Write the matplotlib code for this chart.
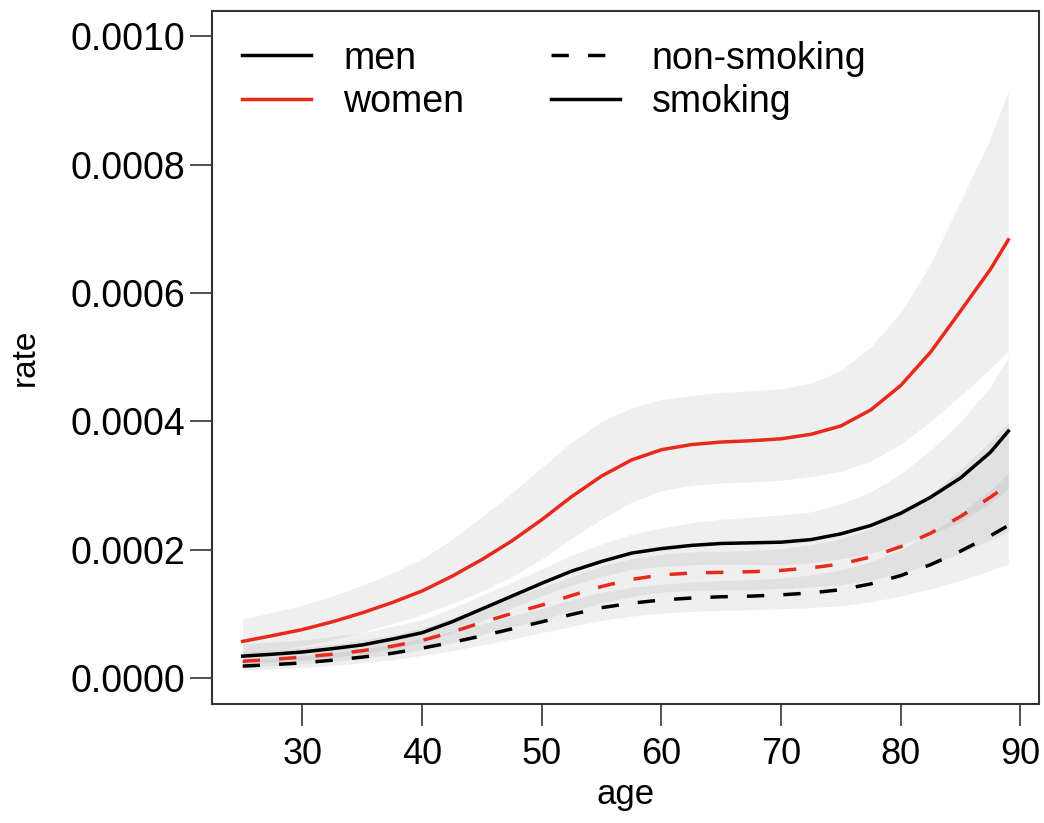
import numpy as np
import matplotlib.pyplot as plt
from matplotlib.lines import Line2D

plt.rcParams['font.family'] = ['Liberation Sans', 'DejaVu Sans']

age = [25, 27.5, 30, 32.5, 35, 37.5, 40, 42.5, 45, 47.5, 50, 52.5, 55, 57.5,
       60, 62.5, 65, 67.5, 70, 72.5, 75, 77.5, 80, 82.5, 85, 87.5, 89]

# women, smoking
w_smk = [0.0000575, 0.0000665, 0.000076, 0.000088, 0.000102, 0.000118, 0.000136,
         0.000159, 0.000185, 0.000214, 0.000247, 0.000283, 0.000315, 0.000340,
         0.000356, 0.000364, 0.000368, 0.000370, 0.000373, 0.000380, 0.000393,
         0.000418, 0.000456, 0.000508, 0.000572, 0.000637, 0.000683]
w_smk_lo = [0.0000359, 0.0000429, 0.0000507, 0.0000603, 0.0000718, 0.0000849, 0.0000993,
            0.0001169, 0.000136, 0.0001585, 0.0001857, 0.0002177, 0.000248, 0.0002742,
            0.0002918, 0.0003008, 0.0003041, 0.0003058, 0.0003083, 0.000314, 0.0003221,
            0.0003385, 0.0003648, 0.0004, 0.00044, 0.0004826, 0.0005097]
w_smk_hi = [0.000092, 0.0001031, 0.000114, 0.0001285, 0.0001448, 0.000164, 0.0001863,
            0.0002162, 0.0002516, 0.0002889, 0.0003285, 0.0003679, 0.0004001, 0.0004216,
            0.0004343, 0.0004404, 0.0004453, 0.0004477, 0.0004513, 0.0004598, 0.0004795,
            0.0005162, 0.00057, 0.0006452, 0.0007436, 0.0008408, 0.0009152]

# men, smoking
m_smk = [0.0000345, 0.0000375, 0.000041, 0.0000462, 0.000052, 0.000061, 0.000071,
         0.000088, 0.000108, 0.000128, 0.000148, 0.000167, 0.000182, 0.000195,
         0.000202, 0.000207, 0.000210, 0.000211, 0.000212, 0.000216, 0.000225,
         0.000238, 0.000257, 0.000282, 0.000312, 0.000352, 0.000385]
m_smk_lo = [0.0000223, 0.000025, 0.0000283, 0.0000328, 0.000038, 0.0000459, 0.0000555,
            0.000071, 0.00009, 0.0001094, 0.0001287, 0.0001452, 0.0001583, 0.0001696,
            0.0001741, 0.0001769, 0.000178, 0.0001773, 0.0001767, 0.00018, 0.000186,
            0.0001951, 0.0002073, 0.0002238, 0.0002438, 0.0002729, 0.0002962]
m_smk_hi = [0.0000535, 0.0000563, 0.0000595, 0.0000651, 0.0000712, 0.0000811, 0.0000909,
            0.0001091, 0.0001296, 0.0001498, 0.0001702, 0.0001921, 0.0002093, 0.0002243,
            0.0002343, 0.0002422, 0.0002478, 0.0002511, 0.0002544, 0.0002592, 0.0002723,
            0.0002904, 0.0003187, 0.0003553, 0.0003994, 0.0004541, 0.0005005]

# women, non-smoking
w_non = [0.0000265, 0.0000295, 0.000033, 0.0000375, 0.000043, 0.000050, 0.000059,
         0.000072, 0.000087, 0.000101, 0.000114, 0.000129, 0.000143, 0.000154,
         0.000161, 0.000164, 0.000165, 0.000166, 0.000168, 0.000172, 0.000178,
         0.000189, 0.000205, 0.000226, 0.000252, 0.000282, 0.000302]
w_non_lo = [0.0000171, 0.0000197, 0.0000228, 0.0000266, 0.0000312, 0.000037, 0.0000447,
            0.0000554, 0.000068, 0.0000802, 0.0000919, 0.0001049, 0.0001172, 0.0001273,
            0.0001342, 0.0001367, 0.0001375, 0.0001383, 0.00014, 0.0001421, 0.0001459,
            0.000153, 0.000164, 0.000178, 0.0001953, 0.0002153, 0.0002288]
w_non_hi = [0.0000411, 0.0000443, 0.0000479, 0.0000529, 0.0000593, 0.0000675, 0.0000779,
            0.0000936, 0.0001114, 0.0001273, 0.0001414, 0.0001587, 0.0001745, 0.0001863,
            0.0001932, 0.0001968, 0.000198, 0.0001992, 0.0002016, 0.0002081, 0.0002172,
            0.0002334, 0.0002563, 0.000287, 0.0003251, 0.0003694, 0.0003986]

# men, non-smoking
m_non = [0.000019, 0.0000213, 0.000024, 0.0000282, 0.000033, 0.000039, 0.000047,
         0.000056, 0.000066, 0.000077, 0.000088, 0.0000995, 0.000110, 0.000117,
         0.000122, 0.000125, 0.000127, 0.000128, 0.000130, 0.000133, 0.000138,
         0.000147, 0.000160, 0.000177, 0.000198, 0.000222, 0.000238]
m_non_lo = [0.0000123, 0.0000142, 0.0000166, 0.00002, 0.0000239, 0.0000289, 0.0000356,
            0.0000431, 0.0000516, 0.0000611, 0.000071, 0.0000809, 0.0000902, 0.0000967,
            0.0001017, 0.0001042, 0.0001058, 0.0001067, 0.0001083, 0.0001099, 0.0001131,
            0.000119, 0.000128, 0.0001394, 0.0001523, 0.0001682, 0.0001776]
m_non_hi = [0.0000295, 0.000032, 0.0000348, 0.0000398, 0.0000455, 0.0000527, 0.000062,
            0.0000728, 0.0000845, 0.000097, 0.0001091, 0.0001224, 0.0001342, 0.0001416,
            0.0001464, 0.00015, 0.0001524, 0.0001536, 0.000156, 0.0001609, 0.0001684,
            0.0001815, 0.0002, 0.0002248, 0.0002574, 0.000293, 0.0003189]

RED = '#e8291c'
DASH = (0, (5, 5.5))

fig = plt.figure(figsize=(10.44, 8.23), dpi=100)
ax = fig.add_axes([0.2031, 0.1446, 0.7921, 0.8426])

# confidence bands first, overlapping bands get darker
for lo, hi in [(w_smk_lo, w_smk_hi), (m_smk_lo, m_smk_hi),
               (w_non_lo, w_non_hi), (m_non_lo, m_non_hi)]:
    ax.fill_between(age, lo, hi, color='#808080', alpha=0.12, lw=0)

ax.plot(age, w_smk, color=RED, lw=2.5)
ax.plot(age, m_smk, color='black', lw=2.5)
ax.plot(age, w_non, color=RED, lw=2.5, linestyle=DASH)
ax.plot(age, m_non, color='black', lw=2.5, linestyle=DASH)

ax.set_xlim(22.44, 91.56)
ax.set_ylim(-0.00004, 0.00104)
ax.set_xticks([30, 40, 50, 60, 70, 80, 90])
ax.set_yticks([0, 0.0002, 0.0004, 0.0006, 0.0008, 0.0010])
ax.set_yticklabels(['0.0000', '0.0002', '0.0004', '0.0006', '0.0008', '0.0010'])

for s in ax.spines.values():
    s.set_color('#333333')
    s.set_linewidth(1.5)
ax.tick_params(axis='x', length=16, width=1.2, color='#333333', pad=8, labelsize=26)
ax.tick_params(axis='y', length=16, width=1.2, color='#333333', pad=3, labelsize=27)
ax.set_xlabel('age', fontsize=25, labelpad=4)
ax.set_ylabel('rate', fontsize=24, labelpad=22)

handles = [Line2D([], [], color='black', lw=2.5),
           Line2D([], [], color=RED, lw=2.5),
           Line2D([], [], color='black', lw=2.5, linestyle=DASH),
           Line2D([], [], color='black', lw=2.5)]
labels = ['men', 'women', 'non-smoking', 'smoking']
ax.legend(handles, labels, ncol=2, frameon=False, loc='upper left',
          bbox_to_anchor=(0.0, 1.0), fontsize=27, handlelength=1.85,
          handletextpad=0.85, columnspacing=2.3, labelspacing=0.2,
          borderaxespad=0.4)

fig.savefig('out.png', dpi=100)
